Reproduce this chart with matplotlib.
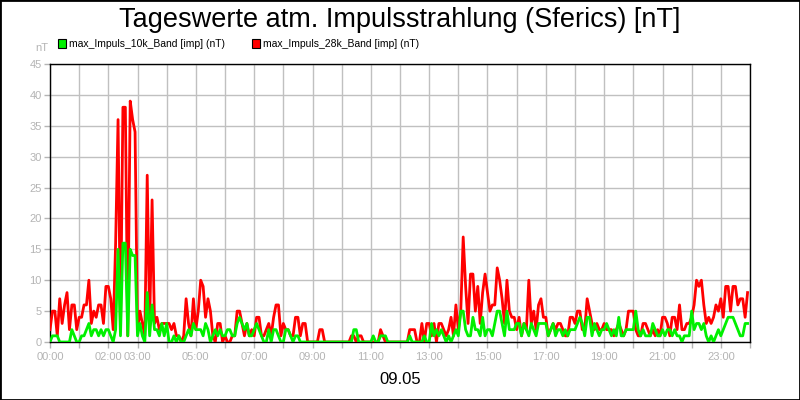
import numpy as np
import matplotlib
matplotlib.use('Agg')
import matplotlib.pyplot as plt
from matplotlib.patches import Rectangle

plt.rcParams['font.family'] = ['Liberation Sans', 'DejaVu Sans']

title = 'Tageswerte atm. Impulsstrahlung (Sferics) [nT]'
date_label = '09.05'
name_10k = 'max_Impuls_10k_Band [imp] (nT)'
name_28k = 'max_Impuls_28k_Band [imp] (nT)'

# 5-minute values, one row per hour (00:00 .. 23:55)
band_28k = [
    [2, 5, 5, 1, 7, 3, 6, 8, 2, 6, 6, 2],
    [4, 4, 6, 6, 10, 3, 5, 4, 6, 6, 3, 9],
    [9, 7, 2, 16, 36, 2, 38, 38, 1, 39, 36, 34],
    [2, 5, 3, 1, 27, 3, 23, 3, 4, 2, 3, 3],
    [3, 3, 2, 3, 1, 1, 0, 1, 7, 3, 1, 7],
    [2, 5, 10, 9, 4, 7, 5, 1, 0, 3, 3, 0],
    [1, 0, 0, 1, 1, 5, 5, 3, 1, 3, 1, 2],
    [1, 4, 4, 1, 1, 2, 3, 1, 4, 6, 6, 1],
    [3, 2, 2, 1, 1, 4, 4, 1, 3, 3, 0, 0],
    [0, 0, 0, 2, 2, 0, 0, 0, 0, 0, 0, 0],
    [0, 0, 0, 0, 1, 1, 0, 1, 1, 0, 0, 0],
    [0, 0, 0, 0, 2, 1, 0, 0, 0, 0, 0, 0],
    [0, 0, 0, 0, 2, 2, 2, 0, 0, 3, 0, 3],
    [3, 1, 3, 0, 3, 3, 2, 1, 2, 4, 1, 6],
    [2, 5, 17, 9, 3, 11, 11, 5, 9, 3, 8, 11],
    [8, 5, 6, 6, 12, 10, 7, 3, 10, 5, 4, 4],
    [2, 4, 1, 3, 2, 10, 3, 5, 2, 6, 7, 4],
    [4, 1, 2, 3, 2, 3, 3, 2, 1, 1, 4, 4],
    [3, 5, 5, 2, 2, 7, 5, 3, 2, 3, 2, 2],
    [3, 2, 2, 2, 1, 2, 3, 2, 1, 2, 5, 5],
    [5, 2, 1, 1, 3, 3, 2, 1, 2, 1, 2, 1],
    [4, 4, 3, 1, 4, 4, 2, 6, 2, 2, 3, 3],
    [4, 6, 10, 9, 10, 6, 3, 4, 3, 4, 6, 5],
    [7, 4, 9, 9, 5, 9, 9, 6, 7, 7, 4, 8],
]

band_10k = [
    [0, 1, 1, 1, 0, 0, 0, 0, 0, 2, 1, 0],
    [0, 1, 1, 2, 3, 1, 2, 2, 1, 2, 1, 2],
    [2, 1, 0, 2, 15, 1, 16, 16, 1, 15, 14, 14],
    [1, 3, 1, 0, 8, 1, 6, 2, 2, 1, 3, 1],
    [3, 0, 0, 1, 0, 1, 0, 0, 1, 2, 1, 3],
    [2, 2, 2, 1, 3, 2, 0, 1, 2, 1, 2, 1],
    [1, 2, 2, 1, 1, 3, 4, 3, 2, 3, 1, 1],
    [2, 3, 2, 1, 0, 0, 2, 0, 2, 2, 1, 0],
    [0, 2, 2, 1, 0, 1, 1, 0, 0, 0, 0, 0],
    [0, 0, 0, 0, 0, 0, 0, 0, 0, 0, 0, 0],
    [0, 0, 0, 0, 0, 2, 2, 0, 0, 0, 0, 0],
    [0, 1, 0, 0, 1, 1, 1, 0, 0, 0, 0, 0],
    [0, 0, 0, 0, 1, 0, 0, 0, 0, 0, 1, 0],
    [0, 3, 1, 2, 1, 2, 1, 0, 1, 0, 1, 2],
    [1, 5, 5, 2, 1, 1, 4, 2, 2, 1, 4, 1],
    [2, 2, 1, 3, 5, 5, 3, 1, 5, 2, 2, 2],
    [3, 3, 1, 3, 2, 1, 3, 2, 1, 3, 3, 3],
    [3, 1, 2, 3, 1, 2, 2, 1, 2, 1, 2, 2],
    [2, 3, 4, 3, 1, 4, 4, 1, 3, 2, 1, 2],
    [2, 3, 2, 1, 2, 1, 4, 1, 1, 2, 2, 2],
    [2, 5, 2, 1, 2, 1, 1, 1, 3, 2, 1, 1],
    [2, 1, 2, 2, 1, 2, 1, 1, 0, 1, 1, 1],
    [5, 2, 3, 3, 2, 3, 1, 0, 1, 0, 1, 2],
    [1, 2, 3, 4, 4, 4, 3, 2, 1, 1, 3, 3],
]

label_hours = [0, 2, 3, 5, 7, 9, 11, 13, 15, 17, 19, 21, 23]

red = np.array(band_28k).ravel()
green = np.array(band_10k).ravel()
t = np.arange(len(red)) / 12.0

grey = '#b4b4b4'

fig = plt.figure(figsize=(8, 4), dpi=100)
ax = fig.add_axes([50 / 800, 58 / 400, 700 / 800, 278 / 400])

ax.plot(t, red, color='#ff0000', lw=2, zorder=3)
ax.plot(t, green, color='#00f000', lw=2, zorder=4)

ax.set_xlim(0, 24)
ax.set_ylim(0, 45)
ax.set_xticks(range(25))
ax.set_xticklabels(['%02d:00' % h if h in label_hours else '' for h in range(25)])
ax.set_yticks(range(0, 46, 5))
ax.grid(True, color='#c0c0c0', lw=1)
ax.set_axisbelow(True)
ax.tick_params(colors=grey, labelcolor=grey, labelsize=8, length=4, width=1)
ax.tick_params(axis='y', pad=2)
ax.tick_params(axis='x', pad=3)
for sp in ax.spines.values():
    sp.set_color('black')
    sp.set_linewidth(1)

fig.text(0.5, 1 - 20 / 400, title, ha='center', va='center', fontsize=19.5)
fig.text(48 / 800, 1 - 48 / 400, 'nT', ha='right', va='center', fontsize=8, color=grey)
fig.text(0.5, 1 - 379 / 400, date_label, ha='center', va='center', fontsize=12)

# legend
for x0, col, name in [(58, '#00f000', name_10k), (252, '#ff0000', name_28k)]:
    fig.patches.append(Rectangle((x0 / 800, 1 - 47.5 / 400), 8 / 800, 8 / 400,
                                 transform=fig.transFigure, facecolor=col,
                                 edgecolor='black', lw=0.8))
    fig.text((x0 + 11) / 800, 1 - 44 / 400, name, ha='left', va='center', fontsize=7.5)

fig.patches.append(Rectangle((0, 0), 1, 1, transform=fig.transFigure,
                             fill=False, edgecolor='black', lw=2))

fig.savefig('out.png', dpi=100)
